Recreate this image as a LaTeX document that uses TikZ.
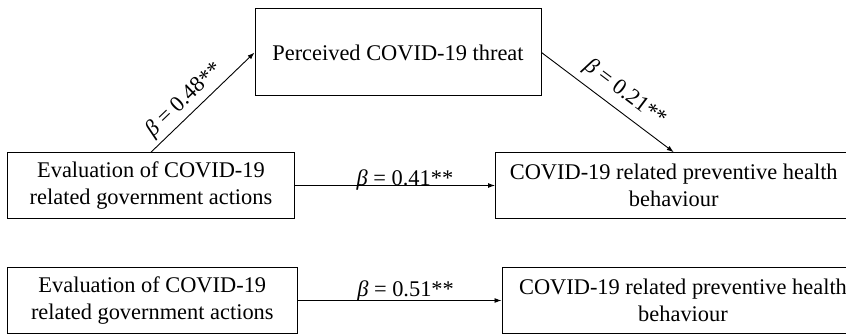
\documentclass[tikz,border=0pt]{standalone}
\usepackage{fontspec}
\setmainfont{Liberation Serif}
\usetikzlibrary{arrows.meta}
\tikzset{
  varbox/.style={draw=black, line width=1pt, rectangle, align=center, inner sep=0pt,
    font=\fontsize{22.4}{27}\selectfont},
  pathline/.style={draw=black, line width=0.9pt, -{Latex[length=7pt,width=5pt]}},
  coef/.style={font=\fontsize{22.4}{27}\selectfont, inner sep=2pt}
}
\begin{document}
\begin{tikzpicture}[x=1pt,y=1pt]
\useasboundingbox (0,0) rectangle (846,-334);
% top row
\node[varbox, minimum width=286pt, minimum height=87pt] (thr) at (398,-52.5) {Perceived COVID-19 threat};
\node[varbox, minimum width=287pt, minimum height=65.6pt] (evA) at (151,-185.5) {Evaluation of COVID-19\\related government actions};
\node[varbox, minimum width=356.5pt, minimum height=65.6pt] (behA) at (673.75,-185.5) {COVID-19 related preventive health\\behaviour};
% bottom row
\node[varbox, minimum width=289.4pt, minimum height=66.4pt] (evB) at (152.3,-300.5) {Evaluation of COVID-19\\related government actions};
\node[varbox, minimum width=362pt, minimum height=66.4pt] (behB) at (683,-300.5) {COVID-19 related preventive health\\behaviour};
% connectors
\draw[pathline] (evA.north) -- node[coef, sloped, above=1.5pt, pos=0.42] {{\itshape β} = 0.48**} (thr.west);
\draw[pathline] (thr.east) -- node[coef, sloped, above=5pt, pos=0.55] {{\itshape β} = 0.21**} (behA.north);
\draw[pathline] (evA.east) -- node[coef, anchor=base, pos=0.55, inner sep=0pt] {{\itshape β} = 0.41**} (behA.west);
\draw[pathline] (evB.east) -- node[coef, anchor=base, pos=0.53, inner sep=0pt, yshift=4pt] {{\itshape β} = 0.51**} (behB.west);
\end{tikzpicture}
\end{document}
